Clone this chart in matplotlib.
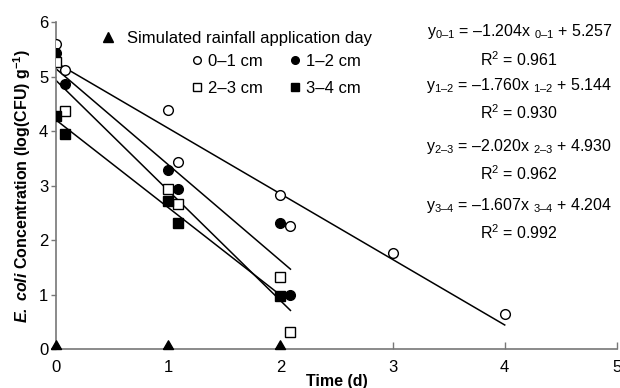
import numpy as np
import matplotlib
matplotlib.use('Agg')
import matplotlib.pyplot as plt
from matplotlib.lines import Line2D

plt.rcParams['font.family'] = ['Liberation Sans', 'DejaVu Sans']
plt.rcParams['font.size'] = 12
plt.rcParams['mathtext.fontset'] = 'custom'
plt.rcParams['mathtext.rm'] = 'Liberation Sans'
plt.rcParams['mathtext.it'] = 'Liberation Sans:italic'
plt.rcParams['mathtext.bf'] = 'Liberation Sans:bold'
plt.rcParams['mathtext.bfit'] = 'Liberation Sans:italic:bold'

# measured E. coli concentrations, log(CFU) g-1
t_01 = [0, 0.08, 1.0, 1.09, 2.0, 2.09, 3.0, 4.0]
c_01 = [5.60, 5.13, 4.39, 3.43, 2.83, 2.26, 1.76, 0.65]
t_12 = [0, 0.08, 1.0, 1.09, 2.0, 2.09]
c_12 = [5.43, 4.86, 3.29, 2.93, 2.31, 0.99]
t_23 = [0, 0.08, 1.0, 1.09, 2.0, 2.09]
c_23 = [5.27, 4.37, 2.93, 2.67, 1.32, 0.31]
t_34 = [0, 0.08, 1.0, 1.09, 2.0]
c_34 = [4.28, 3.94, 2.71, 2.31, 0.97]

rain_days = [0, 1, 2]

# regression fits: slope, intercept, x range, r2
fit_names = ['0\u20131', '1\u20132', '2\u20133', '3\u20134']
fit_slope = [-1.204, -1.760, -2.020, -1.607]
fit_icpt = [5.257, 5.144, 4.930, 4.204]
fit_xmax = [4.0, 2.09, 2.09, 2.0]
fit_r2 = ['0.961', '0.930', '0.962', '0.992']
eq_y = [5.82, 4.84, 3.71, 2.64]

fig = plt.figure(figsize=(6.2, 3.88), dpi=100)
ax = fig.add_axes([0.0903, 0.1005, 0.9047, 0.8425])

ms = 7
ax.plot(t_01, c_01, 'o', ms=ms, mfc='white', mec='black', mew=1, zorder=3)
ax.plot(t_12, c_12, 'o', ms=ms, mfc='black', mec='black', mew=1, zorder=3)
ax.plot(t_23, c_23, 's', ms=ms, mfc='white', mec='black', mew=1, zorder=3)
ax.plot(t_34, c_34, 's', ms=ms, mfc='black', mec='black', mew=1, zorder=3)

# triangle with its base on the data point
tri = [(-1, 0), (1, 0), (0, 1.73), (-1, 0)]
ax.plot(rain_days, np.zeros(len(rain_days)), linestyle='none', marker=tri,
        ms=12.5, color='black', clip_on=False, zorder=4)

for s, b, xm in zip(fit_slope, fit_icpt, fit_xmax):
    xx = np.array([0, xm])
    ax.plot(xx, s * xx + b, color='black', lw=1.1, zorder=2)

for name, s, b, r2, yy in zip(fit_names, fit_slope, fit_icpt, fit_r2, eq_y):
    eq = 'y$_{%s}$ = \u2013%.3fx $_{%s}$ + %.3f' % (name, abs(s), name, b)
    ax.text(4.13, yy, eq, ha='center', va='center', fontsize=11.5)
    ax.text(4.13, yy - 0.5, 'R$^2$ = %s' % r2, ha='center', va='center', fontsize=11.5)

ax.set_xlim(0, 5)
ax.set_ylim(0, 6)
ax.set_xticks(range(0, 6))
ax.set_yticks(range(0, 7))
ax.tick_params(axis='x', direction='in', length=5, width=1, color='#777777', pad=8, labelsize=12)
ax.tick_params(axis='y', direction='out', length=3.5, width=1, color='#777777', pad=2, labelsize=12)
for side in ['top', 'right']:
    ax.spines[side].set_visible(False)
for side in ['left', 'bottom']:
    ax.spines[side].set_color('#777777')
    ax.spines[side].set_linewidth(1.2)

ax.set_xlabel('Time (d)', fontweight='bold', fontsize=11.5, labelpad=-1)
ax.set_ylabel(r'$\mathbfit{E.\ coli}$ Concentration (log(CFU) g$^{\mathbf{-1}}$)',
              fontweight='bold', fontsize=11.5, labelpad=4)

h_rain = Line2D([], [], linestyle='none', marker='^', ms=7, color='black')
leg1 = ax.legend([h_rain], ['Simulated rainfall application day'], loc='upper left',
                 bbox_to_anchor=(0.164, 0.92), bbox_transform=fig.transFigure,
                 frameon=False, handlelength=0.8, handletextpad=0.7,
                 borderpad=0, borderaxespad=0, fontsize=12)
ax.add_artist(leg1)

h01 = Line2D([], [], linestyle='none', marker='o', ms=5.5, mfc='white', mec='black')
h12 = Line2D([], [], linestyle='none', marker='o', ms=5.5, mfc='black', mec='black')
h23 = Line2D([], [], linestyle='none', marker='s', ms=5.5, mfc='white', mec='black')
h34 = Line2D([], [], linestyle='none', marker='s', ms=5.5, mfc='black', mec='black')
ax.legend([h01, h23, h12, h34], ['0\u20131 cm', '2\u20133 cm', '1\u20132 cm', '3\u20134 cm'],
          ncol=2, loc='upper left', bbox_to_anchor=(0.307, 0.862),
          bbox_transform=fig.transFigure, frameon=False, handlelength=0.8,
          handletextpad=0.25, columnspacing=1.55, labelspacing=0.75,
          borderpad=0, borderaxespad=0, fontsize=12)

fig.savefig('out.png', dpi=100)
